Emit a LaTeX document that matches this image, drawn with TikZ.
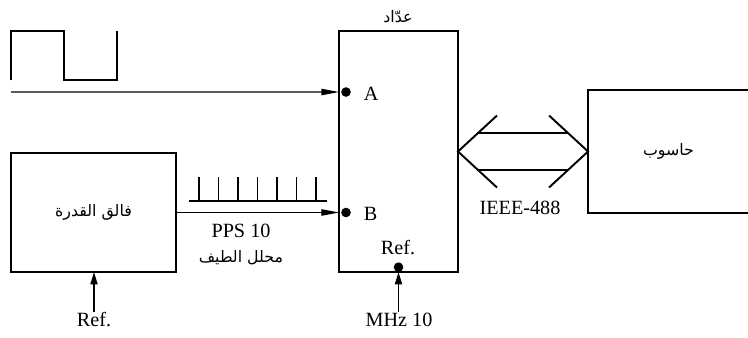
\documentclass[tikz,border=0pt]{standalone}
\usepackage{fontspec}
\setmainfont{Liberation Serif}
\newfontfamily\arabicfont[Script=Arabic]{DejaVu Sans}
\TeXXeTstate=1
\usetikzlibrary{arrows.meta,calc}
\begin{document}
\begin{tikzpicture}[x=0.02cm,y=-0.02cm,line width=1.1pt,font=\fontsize{11.5}{13}\selectfont,
  blk/.style={draw,inner sep=0,outer sep=0},
  sig/.style={line width=.65pt,-{Triangle[length=10pt,width=3.6pt]}},
  refin/.style={line width=.9pt,-{Triangle[length=7pt,width=4pt]}},
  ar/.style={font=\arabicfont\fontsize{9}{11}\selectfont}]
\useasboundingbox(0,0)rectangle(748,338);
% blocks
\node[blk,minimum width=2.38cm,minimum height=4.82cm](cnt)at(398.5,151.5){};
\node[blk,minimum width=3.3cm,minimum height=2.38cm,ar](pwr)at(93.5,212.5){\beginR فالق القدرة\endR};
\node[inner sep=0,minimum width=3.18cm,minimum height=2.42cm,ar](pc)at(668.5,151.5){\beginR حاسوب\endR};
\draw(pc.north east)-|(pc.south west)--(pc.south east);
\node[ar](cntl)at(398,17){\beginR عدّاد\endR};
% square wave on A
\draw(11,80)|-(64,31)|-(117,80)--(117,31);
\coordinate(ain)at(11,92);
\coordinate(pa)at($(cnt.north west)+(7,61)$);
\coordinate(pb)at(pa|-pwr.east);
\draw[sig](ain)--(cnt.west|-pa);
\draw[sig](pwr.east)--(cnt.west|-pb);
\fill(pa)circle(4.8);\fill(pb)circle(4.8);
\node[anchor=west](la)at(357,94){A};
\node[anchor=west](lb)at(357,214){B};
% pulses
\draw(189,201)--(327,201);
\foreach\i in{0,...,6}\draw(199+19.5*\i,201)--(199+19.5*\i,177);
\node(pps)at(241,231){PPS 10};
\node[ar](spec)at(241,258){\beginR محلل الطيف\endR};
% references
\node[inner sep=0](rl)at(94,320){Ref.};
\draw[refin](rl.north)--(rl.north|-pwr.south);
\coordinate(pr)at($(cnt.south)+(0,-4.8)$);
\fill(pr)circle(4.8);
\node(rc)at(398,248){Ref.};
\node[inner sep=0](mhz)at(399,320){MHz 10};
\draw[refin](mhz.north-|pr)--(cnt.south);
% bus
\coordinate(t1)at(cnt.east);\coordinate(t2)at(pc.west);
\draw($(t1)+(39,-36)$)--(t1)--($(t1)+(39,36)$);
\draw($(t2)+(-39,-36)$)--(t2)--($(t2)+(-39,36)$);
\draw($(t1)+(19,-18.5)$)--($(t2)+(-19,-18.5)$);
\draw($(t1)+(19,18.5)$)--($(t2)+(-19,18.5)$);
\node(bus)at(520,208){IEEE-488};
\end{tikzpicture}
\end{document}
